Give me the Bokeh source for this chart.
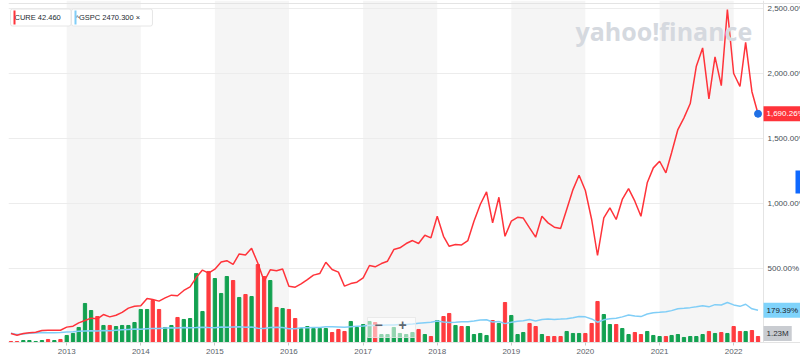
import pandas as pd
from bokeh.plotting import figure
from bokeh.models import (Range1d, FixedTicker, DatetimeTickFormatter, ColumnDataSource,
                          LabelSet, Label, BoxAnnotation, Span)
from bokeh.core.properties import value
from bokeh.embed import file_html
from bokeh.resources import INLINE

# ---------------- data ----------------
start_month = "2012-04-01"
n_months = 122

cure_pct = [
    0, -13, 0, 5, 10, 23, 25, 25, 25,
    49, 56, 82, 100, 118, 113, 146, 128, 140, 162, 195, 210,
    213, 269, 261, 249, 274, 295, 290, 331, 359, 430, 488, 465,
    495, 550, 560, 531, 612, 604, 655, 540, 402, 490, 482, 496,
    364, 356, 382, 415, 449, 461, 548, 492, 472, 364, 384, 395,
    428, 523, 513, 538, 556, 646, 659, 692, 715, 692, 756, 736,
    902, 748, 671, 684, 681, 715, 864, 992, 1090, 851, 1048, 748,
    864, 894, 888, 813, 741, 902, 851, 818, 807, 954, 1107, 1217,
    1100, 877, 600, 890, 967, 877, 1031, 1115, 1018, 902, 1159, 1274,
    1325, 1236, 1390, 1569, 1659, 1769, 2056, 2197, 1805, 2128, 1907, 2492,
    2000, 1900, 2240, 1860, 1690.26,
]

gspc_pct = [
    3, -8, -3, 1, 4, 7, 5, 6, 8,
    12, 14, 17, 20, 22, 19, 24, 21, 25, 28, 31, 34,
    32, 37, 38, 39, 42, 44, 42, 46, 44, 46, 49, 47,
    45, 50, 48, 50, 51, 48, 50, 41, 39, 47, 48, 46,
    37, 36, 44, 45, 46, 46, 51, 51, 50, 48, 52, 55,
    58, 63, 62, 64, 66, 66, 70, 70, 73, 78, 83, 86,
    96, 89, 85, 87, 90, 91, 97, 104, 106, 88, 92, 76,
    87, 94, 98, 108, 96, 108, 112, 108, 111, 114, 122, 130,
    128, 112, 87, 105, 113, 118, 128, 142, 134, 130, 150, 160,
    163, 167, 176, 190, 194, 199, 205, 214, 205, 222, 219, 238,
    220, 209, 225, 190, 179.39,
]

volume_m = [
    0.21, 0.20, 0.41, 0.41, 0.21, 0.41, 0.62, 0.41, 0.62,
    1.44, 1.85, 3.08, 8.00, 6.56, 5.33, 3.49, 3.49, 3.28, 3.49, 3.49, 4.10,
    6.77, 6.77, 8.61, 6.77, 3.08, 3.49, 5.13, 4.72, 4.92, 14.15, 6.36, 14.56,
    13.12, 10.05, 13.53, 12.71, 9.23, 9.84, 9.43, 15.99, 13.53, 12.71, 7.18, 6.97,
    6.77, 4.92, 2.87, 3.28, 2.87, 2.87, 2.87, 2.05, 2.67, 2.26, 4.31, 3.08,
    3.69, 4.31, 4.10, 1.64, 1.64, 3.08, 1.85, 1.64, 2.05, 2.67, 1.64, 1.23,
    4.51, 5.33, 5.95, 3.49, 3.28, 3.28, 1.64, 1.85, 1.44, 4.51, 3.90, 8.20,
    5.54, 1.64, 2.05, 3.90, 3.28, 1.64, 1.23, 1.23, 1.23, 2.26, 1.85, 1.85,
    1.85, 3.90, 8.41, 5.74, 3.69, 3.69, 2.87, 1.64, 2.05, 1.64, 2.26, 1.44,
    1.23, 1.23, 1.44, 1.64, 1.03, 1.23, 1.23, 1.64, 2.26, 1.85, 2.05, 1.85,
    3.28, 2.26, 2.26, 2.46, 1.23,
]

up_month = [
    0, 0, 1, 1, 1, 1, 0, 1, 0,
    1, 1, 1, 1, 1, 0, 1, 0, 1, 1, 1, 1,
    1, 1, 0, 0, 1, 1, 0, 1, 1, 1, 1, 0,
    1, 1, 1, 0, 1, 0, 1, 0, 0, 1, 0, 1,
    0, 0, 1, 1, 1, 1, 1, 0, 0, 0, 1, 1,
    1, 1, 0, 1, 1, 1, 1, 1, 1, 0, 1, 0,
    1, 0, 0, 1, 0, 1, 1, 1, 1, 0, 1, 0,
    1, 1, 1, 0, 0, 1, 0, 0, 0, 1, 1, 1,
    0, 0, 0, 1, 1, 0, 1, 1, 0, 0, 1, 1,
    1, 0, 1, 1, 1, 1, 1, 1, 0, 1, 0, 1,
    0, 0, 1, 0, 0,
]

tick_years = [2013, 2014, 2015, 2016, 2017, 2018, 2019, 2020, 2021, 2022]
shaded_years = [2013, 2015, 2017, 2019, 2021]
y_ticks = [500, 1000, 1500, 2000, 2500]
y_tick_labels = ["500.00%", "1,000.00%", "1,500.00%", "2,000.00%", "2,500.00%"]
legend_texts = ["CURE 42.460", "^GSPC 2470.300  \u00d7"]
cure_last_label = "1,690.26%"
gspc_last_label = "179.39%"
volume_last_label = "1.23M"

# ---------------- styles / layout ----------------
RED = "#ff333a"
BLUE = "#80cef7"
GREEN = "#12a150"
BAR_RED = "#ff3b3f"
FONT = "Liberation Sans"
FRAME_W = 792          # frame covers the plot area plus the right label strip
PLOT_W = 755           # width of the data area (up to the right axis line)
FRAME_H = 342


def ms(ts):
    return pd.Timestamp(ts).value / 1e6


dates = pd.date_range(start_month, periods=n_months, freq="MS")
x_start, x_axis = ms("2012-03-20"), ms("2022-05-28")
x_end = x_axis + (x_axis - x_start) * (FRAME_W - PLOT_W) / PLOT_W
px_per_pct = 65.0 / 500.0
y_start = -9 / px_per_pct
y_end = y_start + FRAME_H / px_per_pct
vol_end = FRAME_H * 0.205

src = ColumnDataSource(dict(
    date=dates, cure=cure_pct, gspc=gspc_pct, vol=volume_m,
    color=[GREEN if u else BAR_RED for u in up_month],
))

p = figure(x_axis_type="datetime", frame_width=FRAME_W, frame_height=FRAME_H,
           output_backend="svg", toolbar_location=None,
           x_range=Range1d(x_start, x_end), y_range=Range1d(y_start, y_end),
           y_axis_location=None,
           min_border_left=8, min_border_right=0, min_border_top=0, min_border_bottom=0)
p.extra_y_ranges = {"vol": Range1d(0, vol_end)}
p.outline_line_color = None
p.background_fill_color = "white"
p.border_fill_color = "white"

# alternating year bands
for yr in shaded_years:
    p.add_layout(BoxAnnotation(left=ms(f"{yr}-01-01"), right=ms(f"{yr + 1}-01-01"),
                               fill_color="#f5f5f5", fill_alpha=1.0, line_color=None,
                               level="image"))

# horizontal grid lines, stopping at the right axis line
p.xgrid.visible = False
p.ygrid.visible = False
grid_src = ColumnDataSource(dict(x0=[x_start] * len(y_ticks), x1=[x_axis] * len(y_ticks),
                                 y=y_ticks))
p.segment(x0="x0", x1="x1", y0="y", y1="y", source=grid_src, color="#ececec", line_width=1,
          level="underlay")

# frame lines (top and right axis)
p.add_layout(Span(location=y_end - 3 / px_per_pct, dimension="width",
                  line_color="#e4e4e4", line_width=1, level="underlay"))
p.add_layout(Span(location=x_axis, dimension="height", line_color="#e4e4e4", line_width=1,
                  level="underlay"))

# x axis
p.xaxis.ticker = FixedTicker(ticks=[ms(f"{y}-01-01") for y in tick_years])
p.xaxis.formatter = DatetimeTickFormatter(years="%Y", months="%Y", days="%Y", hours="%Y",
                                          minutes="%Y", seconds="%Y", milliseconds="%Y",
                                          microseconds="%Y")
p.xaxis.axis_line_color = "#e3e3e3"
p.xaxis.major_tick_line_color = "#c8c8c8"
p.xaxis.major_tick_out = 3
p.xaxis.major_tick_in = 0
p.xaxis.minor_tick_line_color = None
p.xaxis.major_label_standoff = 3
p.xaxis.major_label_text_font = FONT
p.xaxis.major_label_text_font_size = "8px"
p.xaxis.major_label_text_color = "#5b636a"

# right-hand tick labels (run off the edge as in the original)
ylab_src = ColumnDataSource(dict(x=[x_axis] * len(y_ticks), y=y_ticks, text=y_tick_labels))
p.add_layout(LabelSet(x="x", y="y", text="text", source=ylab_src, x_offset=4,
                      text_baseline="middle", text_align="left",
                      text_font=value(FONT), text_font_size="8px", text_color="#464e56"))

# volume bars
p.vbar(x="date", top="vol", bottom=0, width=16 * 24 * 3600 * 1000, color="color",
       y_range_name="vol", source=src)

# lines
p.line(x="date", y="gspc", source=src, color=BLUE, line_width=1.5)
p.line(x="date", y="cure", source=src, color=RED, line_width=1.5)
p.scatter(x=[dates[-1]], y=[cure_pct[-1]], size=7, color="#1f6fe5")

# last value tags
p.add_layout(Label(x=x_axis, y=cure_pct[-1], text=cure_last_label, text_baseline="middle",
                   text_align="left", text_font=FONT, text_font_size="8px", text_color="white",
                   background_fill_color=RED, padding=3))
p.add_layout(Label(x=x_axis, y=gspc_pct[-1], text=gspc_last_label, text_baseline="middle",
                   text_align="left", text_font=FONT, text_font_size="8px", text_color="#1d2228",
                   background_fill_color="#7fd3fb", padding=3))
p.add_layout(Label(x=x_axis, y=volume_m[-1], y_range_name="vol", text=volume_last_label,
                   y_offset=3, text_baseline="middle", text_align="left", text_font=FONT,
                   text_font_size="8px", text_color="#2c3036",
                   background_fill_color="#c9ccd1", padding=3))

# legend chips (top-left)
chip_x = [2, 63]
chip_colors = [RED, BLUE]
for cx, txt, col in zip(chip_x, legend_texts, chip_colors):
    p.add_layout(Label(x=cx, y=FRAME_H - 17, x_units="screen", y_units="screen",
                       text="   " + txt, text_baseline="middle", text_align="left",
                       text_font=FONT, text_font_size="7.5px", text_color="#232a31",
                       background_fill_color="white", border_line_color="#e6e6e6",
                       padding=4, border_radius=2))
    p.add_layout(BoxAnnotation(left=cx + 3, right=cx + 5, top=FRAME_H - 10, bottom=FRAME_H - 24,
                               left_units="screen", right_units="screen",
                               top_units="screen", bottom_units="screen",
                               fill_color=col, fill_alpha=1.0, line_color=None))

# watermark
p.add_layout(Label(x=567, y=FRAME_H - 30.5, x_units="screen", y_units="screen",
                   text="yahoo!finance", text_baseline="alphabetic", text_align="left",
                   text_font="Open Sans", text_font_style="bold", text_font_size="25px",
                   text_color="#d5d9df"))

# zoom control
p.add_layout(BoxAnnotation(left=359, right=407, top=25, bottom=5,
                           left_units="screen", right_units="screen",
                           top_units="screen", bottom_units="screen",
                           fill_color="white", fill_alpha=0.55, line_color="#e6e6e6",
                           line_alpha=0.8))
for zx, sym in zip([370, 394], ["\u2212", "+"]):
    p.add_layout(Label(x=zx, y=18, x_units="screen", y_units="screen", text=sym,
                       text_baseline="middle", text_align="center", text_font=FONT,
                       text_font_style="bold", text_font_size="14px", text_color="#5f6770"))

# side tab
p.add_layout(BoxAnnotation(left=787, right=792, top=FRAME_H - 170, bottom=FRAME_H - 193,
                           left_units="screen", right_units="screen",
                           top_units="screen", bottom_units="screen",
                           fill_color="#0f69ff", fill_alpha=1.0, line_color=None))

open("out.html", "w").write(file_html(p, INLINE))
